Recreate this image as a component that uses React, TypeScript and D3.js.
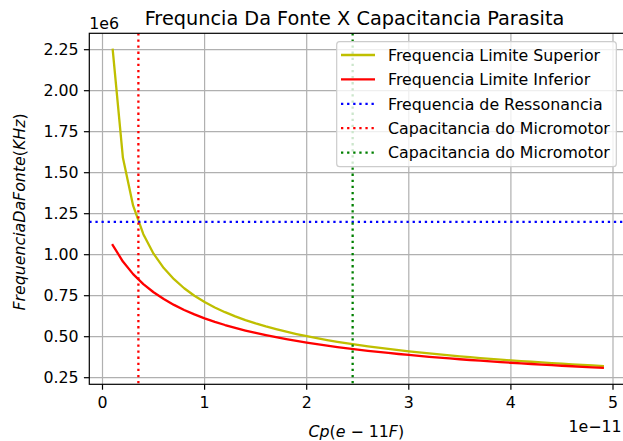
import React from "react";
import * as d3 from "d3";

const capX = [0.1,0.2,0.3,0.4,0.5,0.6,0.7,0.8,0.9,1.0,1.1,1.2,1.3,1.4,1.5,1.6,1.7,1.8,1.9,2.0,2.1,2.2,2.3,2.4,2.5,2.6,2.7,2.8,2.9,3.0,3.1,3.2,3.3,3.4,3.5,3.6,3.7,3.8,3.9,4.0,4.1,4.2,4.3,4.4,4.5,4.6,4.7,4.8,4.9];
const freqSuperior = [2.2500,1.5910,1.2990,1.1250,1.0062,0.9185,0.8504,0.7955,0.7500,0.7115,0.6784,0.6495,0.6240,0.6013,0.5809,0.5625,0.5457,0.5303,0.5162,0.5031,0.4910,0.4797,0.4691,0.4593,0.4500,0.4413,0.4330,0.4252,0.4178,0.4108,0.4041,0.3977,0.3917,0.3859,0.3803,0.3750,0.3699,0.3650,0.3603,0.3558,0.3514,0.3472,0.3431,0.3392,0.3354,0.3317,0.3282,0.3248,0.3214];
const freqInferior = [1.0589,0.9581,0.8815,0.8208,0.7710,0.7294,0.6939,0.6630,0.6360,0.6120,0.5906,0.5712,0.5537,0.5376,0.5229,0.5093,0.4967,0.4851,0.4742,0.4640,0.4544,0.4454,0.4369,0.4289,0.4213,0.4141,0.4073,0.4008,0.3946,0.3886,0.3830,0.3775,0.3723,0.3673,0.3625,0.3579,0.3535,0.3492,0.3451,0.3411,0.3372,0.3335,0.3299,0.3264,0.3230,0.3197,0.3166,0.3135,0.3105];
const freqRessonancia = 1.2;
const capMicromotorRed = 0.3515;
const capMicromotorGreen = 2.45;
const xTicks = [0, 1, 2, 3, 4, 5];
const yTicks = [0.25, 0.5, 0.75, 1.0, 1.25, 1.5, 1.75, 2.0, 2.25];
const legendLabels = [
  "Frequencia Limite Superior",
  "Frequencia Limite Inferior",
  "Frequencia de Ressonancia",
  "Capacitancia do Micromotor",
  "Capacitancia do Micromotor",
];

const W = 623, H = 441;
const L = 89.3, R = 627.3, T = 33.3, B = 384.3;
const FONT = "DejaVu Sans, sans-serif";
const FS = 15.8;

export default function App() {
  const x = d3.scaleLinear().domain([0, 5]).range([102.5, 613]);
  const y = d3.scaleLinear().domain([0.25, 2.25]).range([377.7, 49.7]);
  const line = d3.line<number>().x((_, i) => x(capX[i])).y((d) => y(d));

  const legendStyles = [
    { color: "#bfbf00", dash: undefined },
    { color: "#ff0000", dash: undefined },
    { color: "#0000ff", dash: "2.3 3.8" },
    { color: "#ff0000", dash: "2.3 3.8" },
    { color: "#008000", dash: "2.3 3.8" },
  ];

  return (
    <svg width={W} height={H} style={{ position: "absolute", left: 0, top: 0, background: "#fff" }} fontFamily={FONT}>
      <rect x={0} y={0} width={W} height={H} fill="#fff" />
      <defs>
        <clipPath id="ax">
          <rect x={L} y={T} width={R - L} height={B - T} />
        </clipPath>
      </defs>
      {/* grid */}
      <g stroke="#b0b0b0" strokeWidth={1.2}>
        {xTicks.map((t) => (
          <line key={"gx" + t} x1={x(t)} x2={x(t)} y1={T} y2={B} />
        ))}
        {yTicks.map((t) => (
          <line key={"gy" + t} x1={L} x2={R} y1={y(t)} y2={y(t)} />
        ))}
      </g>
      <g clipPath="url(#ax)" fill="none" strokeWidth={2.3}>
        <path d={line(freqSuperior) || ""} stroke="#bfbf00" strokeLinejoin="round" strokeLinecap="square" />
        <path d={line(freqInferior) || ""} stroke="#ff0000" strokeLinejoin="round" strokeLinecap="square" />
        <line x1={L} x2={R} y1={y(freqRessonancia)} y2={y(freqRessonancia)} stroke="#0000ff" strokeDasharray="2.3 3.8" />
        <line x1={x(capMicromotorRed)} x2={x(capMicromotorRed)} y1={T} y2={B} stroke="#ff0000" strokeDasharray="2.3 3.8" />
        <line x1={x(capMicromotorGreen)} x2={x(capMicromotorGreen)} y1={T} y2={B} stroke="#008000" strokeDasharray="2.3 3.8" />
      </g>
      {/* spines */}
      <rect x={L} y={T} width={R - L} height={B - T} fill="none" stroke="#000" strokeWidth={1.2} />
      {/* ticks */}
      <g stroke="#000" strokeWidth={1.2}>
        {xTicks.map((t) => (
          <line key={"tx" + t} x1={x(t)} x2={x(t)} y1={B} y2={B + 5.4} />
        ))}
        {yTicks.map((t) => (
          <line key={"ty" + t} x1={L} x2={L - 5.4} y1={y(t)} y2={y(t)} />
        ))}
      </g>
      <g fontSize={FS} fill="#000">
        {xTicks.map((t) => (
          <text key={"lx" + t} x={x(t)} y={B + 10.8 + 12.5} textAnchor="middle">
            {String(t)}
          </text>
        ))}
        {yTicks.map((t) => (
          <text key={"ly" + t} x={L - 10.6} y={y(t) + 5.7} textAnchor="end">
            {t.toFixed(2)}
          </text>
        ))}
        <text x={L} y={29.3} textAnchor="start">1e6</text>
        <text x={621.5} y={432} textAnchor="end">1e−11</text>
      </g>
      {/* axis labels */}
      <text x={(L + R) / 2 - 2} y={437} textAnchor="middle" fontSize={FS}>
        <tspan fontStyle="italic">Cp</tspan>
        <tspan>(</tspan>
        <tspan fontStyle="italic">e</tspan>
        <tspan> − 11</tspan>
        <tspan fontStyle="italic">F</tspan>
        <tspan>)</tspan>
      </text>
      <text transform={`translate(25,212) rotate(-90)`} textAnchor="middle" fontSize={FS}>
        <tspan fontStyle="italic">FrequenciaDaFonte</tspan>
        <tspan>(</tspan>
        <tspan fontStyle="italic">KHz</tspan>
        <tspan>)</tspan>
      </text>
      {/* title */}
      <text x={354.5} y={25} textAnchor="middle" fontSize={19.3}>
        Frequncia Da Fonte X Capacitancia Parasita
      </text>
      {/* legend */}
      <g>
        <rect x={336.7} y={41.7} width={616.3 - 336.7} height={166.7 - 41.7} rx={3} ry={3} fill="#fff" fillOpacity={0.8} stroke="#cccccc" strokeWidth={1.2} />
        {legendLabels.map((lab, i) => {
          const cy = 55 + i * 24.4;
          const s = legendStyles[i];
          return (
            <g key={"lg" + i}>
              <line x1={341} x2={375} y1={cy} y2={cy} stroke={s.color} strokeWidth={2.3} strokeDasharray={s.dash} />
              <text x={388} y={cy + 5.8} fontSize={FS} fill="#000">{lab}</text>
            </g>
          );
        })}
      </g>
    </svg>
  );
}
